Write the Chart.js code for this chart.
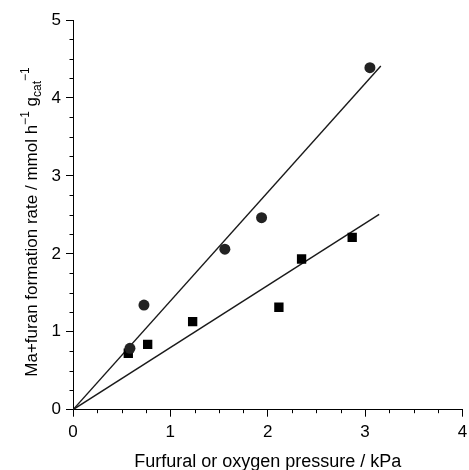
<!DOCTYPE html>
<html><head><meta charset="utf-8">
<script src="https://cdn.jsdelivr.net/npm/chart.js@4.4.0/dist/chart.umd.min.js"></script>
<style>html,body{margin:0;padding:0;background:#fff}canvas{display:block}</style>
</head><body>
<canvas id="c" width="469" height="470"></canvas>
<script>
// Data
const furfuralX = [0.585, 0.729, 1.56, 1.937, 3.05];
const furfuralY = [0.788, 1.343, 2.06, 2.463, 4.388];
const oxygenX = [0.568, 0.767, 1.229, 2.115, 2.348, 2.868];
const oxygenY = [0.724, 0.839, 1.129, 1.314, 1.934, 2.212];
const fitFurfuralX = [0, 3.162];
const fitFurfuralY = [0, 4.41];
const fitOxygenX = [0, 3.145];
const fitOxygenY = [0, 2.507];
const xTickRange = [0, 4];
const yTickRange = [0, 5];
const minorStep = 0.25;
const xTitle = 'Furfural or oxygen pressure / kPa';
const yTitleParts = [
  {t: 'Ma+furan formation rate / mmol h', s: 0},
  {t: '\u22121', s: 1},
  {t: ' g', s: 0},
  {t: 'cat', s: -1},
  {t: '\u22121', s: 1}
];

const pts = (xs, ys) => xs.map((x, i) => ({x, y: ys[i]}));
const FONT = 'Arial, "Liberation Sans", sans-serif';

const titlesAndMinor = {
  id: 'titlesAndMinor',
  afterDraw(chart) {
    const ctx = chart.ctx;
    const xs = chart.scales.x, ys = chart.scales.y;
    ctx.save();
    ctx.strokeStyle = '#000';
    ctx.lineWidth = 1;
    // minor ticks
    for (let v = xTickRange[0]; v <= xTickRange[1] + 1e-9; v += minorStep) {
      if (Math.abs(v - Math.round(v)) < 1e-9) continue;
      const p = Math.round(xs.getPixelForValue(v)) + 0.5;
      ctx.beginPath(); ctx.moveTo(p, xs.top); ctx.lineTo(p, xs.top + 3.5); ctx.stroke();
    }
    for (let v = yTickRange[0]; v <= yTickRange[1] + 1e-9; v += minorStep) {
      if (Math.abs(v - Math.round(v)) < 1e-9) continue;
      const p = Math.round(ys.getPixelForValue(v)) + 0.5;
      ctx.beginPath(); ctx.moveTo(ys.right, p); ctx.lineTo(ys.right - 3.5, p); ctx.stroke();
    }
    // x title
    ctx.fillStyle = '#000';
    ctx.font = '18px ' + FONT;
    ctx.textAlign = 'center';
    ctx.textBaseline = 'alphabetic';
    ctx.fillText(xTitle, (chart.chartArea.left + chart.chartArea.right) / 2, 466.5);
    // y title (rich text, rotated)
    const base = 17, small = 12;
    const fontFor = s => (s === 0 ? base : small) + 'px ' + FONT;
    let total = 0;
    yTitleParts.forEach(p => { ctx.font = fontFor(p.s); total += ctx.measureText(p.t).width; });
    ctx.translate(37, 222);
    ctx.rotate(-Math.PI / 2);
    ctx.textAlign = 'left';
    let x = -total / 2;
    yTitleParts.forEach(p => {
      ctx.font = fontFor(p.s);
      const dy = p.s === 1 ? -8 : (p.s === -1 ? 4 : 0);
      ctx.fillText(p.t, x, dy);
      x += ctx.measureText(p.t).width;
    });
    ctx.restore();
  }
};

new Chart(document.getElementById('c'), {
  type: 'scatter',
  data: {
    datasets: [
      {type: 'line', data: pts(fitFurfuralX, fitFurfuralY), borderColor: '#1a1a1a', borderWidth: 1.4, pointRadius: 0, fill: false, order: 3},
      {type: 'line', data: pts(fitOxygenX, fitOxygenY), borderColor: '#1a1a1a', borderWidth: 1.4, pointRadius: 0, fill: false, order: 3},
      {data: pts(furfuralX, furfuralY), pointStyle: 'circle', pointRadius: 5.5, backgroundColor: '#222', borderColor: '#222', borderWidth: 0, order: 1},
      {data: pts(oxygenX, oxygenY), pointStyle: 'rect', pointRadius: 6.6, backgroundColor: '#000', borderColor: '#000', borderWidth: 0, order: 2}
    ]
  },
  options: {
    responsive: false,
    animation: false,
    events: [],
    layout: {padding: {top: 20, right: 6.3, left: 0, bottom: 0}},
    plugins: {legend: {display: false}, tooltip: {enabled: false}},
    scales: {
      x: {
        type: 'linear', min: xTickRange[0], max: xTickRange[1],
        border: {display: true, color: '#000', width: 1},
        grid: {drawOnChartArea: false, drawTicks: true, tickLength: 7, color: '#000'},
        ticks: {stepSize: 1, color: '#000', padding: 5, font: {size: 17, family: FONT}, maxRotation: 0},
        afterFit(s) { s.height = 60.3; s.paddingLeft = 0; s.paddingRight = 0; }
      },
      y: {
        type: 'linear', min: yTickRange[0], max: yTickRange[1],
        border: {display: true, color: '#000', width: 1},
        grid: {drawOnChartArea: false, drawTicks: true, tickLength: 7, color: '#000'},
        ticks: {stepSize: 1, color: '#000', padding: 5, font: {size: 17, family: FONT}},
        afterFit(s) { s.width = 73; s.paddingTop = 0; s.paddingBottom = 0; }
      }
    }
  },
  plugins: [titlesAndMinor]
});
</script>
</body></html>
